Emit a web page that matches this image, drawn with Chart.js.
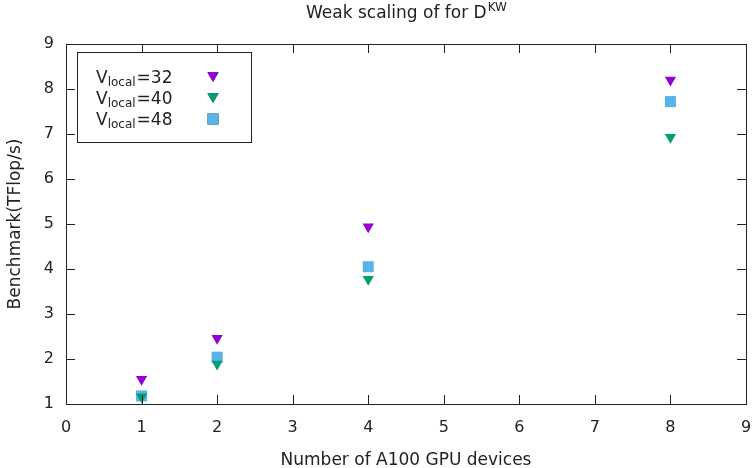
<!DOCTYPE html>
<html>
<head>
<meta charset="utf-8">
<script src="https://cdn.jsdelivr.net/npm/chart.js@4"></script>
<style>
  html, body { margin: 0; padding: 0; background: #fff; }
  #wrap { width: 755px; height: 468px; }
</style>
</head>
<body>
<div id="wrap"><canvas id="weakScaling"></canvas></div>
<script>
const devices = [1, 2, 4, 8];
const vlocal32 = [1.55, 2.46, 4.94, 8.2];
const vlocal40 = [1.16, 1.89, 3.77, 6.93];
const vlocal48 = [1.18, 2.04, 4.05, 7.72];
const seriesNames = ["32", "40", "48"];
const xTicks = [0, 1, 2, 3, 4, 5, 6, 7, 8, 9];
const yTicks = [1, 2, 3, 4, 5, 6, 7, 8, 9];

const FONT = "'DejaVu Sans', sans-serif";
const PURPLE = "#9400d3";
const GREEN = "#009e73";
const BLUE = "#56b4e9";

const pts = (ys) => devices.map((x, i) => ({ x: x, y: ys[i] }));

// gnuplot-style frame: border, inward ticks on all four sides, titles, key box
const framePlugin = {
  id: "frame",
  afterDraw(chart) {
    const c = chart.ctx;
    const a = chart.chartArea;
    const xs = chart.scales.x, ys = chart.scales.y;
    c.save();
    c.strokeStyle = "#222";
    c.lineWidth = 1;
    c.strokeRect(a.left + 0.5, a.top + 0.5, a.right - a.left, a.bottom - a.top);
    c.beginPath();
    xTicks.forEach(v => {
      const px = Math.round(xs.getPixelForValue(v)) + 0.5;
      c.moveTo(px, a.bottom); c.lineTo(px, a.bottom - 9);
      c.moveTo(px, a.top); c.lineTo(px, a.top + 9);
    });
    yTicks.forEach(v => {
      const py = Math.round(ys.getPixelForValue(v)) + 0.5;
      c.moveTo(a.left, py); c.lineTo(a.left + 9, py);
      c.moveTo(a.right, py); c.lineTo(a.right - 9, py);
    });
    c.stroke();

    c.fillStyle = "#222";
    c.textBaseline = "alphabetic";
    // title with superscript
    const t1 = "Weak scaling of for D";
    c.font = "17px " + FONT;
    const w1 = c.measureText(t1).width;
    c.font = "12px " + FONT;
    const w2 = c.measureText("KW").width;
    const tx = (a.left + a.right) / 2 - (w1 + w2) / 2;
    c.font = "17px " + FONT;
    c.textAlign = "left";
    c.fillText(t1, tx, 18);
    c.font = "12px " + FONT;
    c.fillText("KW", tx + w1 + 1, 11);

    // axis titles
    c.font = "17px " + FONT;
    c.textAlign = "center";
    c.fillText("Number of A100 GPU devices", (a.left + a.right) / 2, 465);
    c.save();
    c.translate(20, (a.top + a.bottom) / 2);
    c.rotate(-Math.PI / 2);
    c.fillText("Benchmark(TFlop/s)", 0, 0);
    c.restore();

    // key box
    c.strokeRect(77.5, 52.5, 174, 90);
    const colors = [PURPLE, GREEN, BLUE];
    seriesNames.forEach((n, i) => {
      const by = 83 + i * 21;
      c.textAlign = "left";
      let x = 96;
      c.font = "17px " + FONT;
      c.fillStyle = "#222";
      c.fillText("V", x, by);
      x += c.measureText("V").width;
      c.font = "12px " + FONT;
      c.fillText("local", x, by + 3);
      x += c.measureText("local").width + 1;
      c.font = "17px " + FONT;
      c.fillText("=" + n, x, by);
      const ds = chart.data.datasets[i];
      Chart.helpers.drawPoint(c, {
        pointStyle: ds.pointStyle,
        radius: ds.pointRadius,
        rotation: ds.rotation || 0,
        borderWidth: 0
      }, 213, by - 6 + (ds.pointStyle === "triangle" ? -1.5 : 0));
      c.fillStyle = colors[i];
      c.fill();
    });
    c.restore();
  }
};

new Chart(document.getElementById("weakScaling"), {
  type: "scatter",
  data: {
    datasets: [
      {
        label: "Vlocal=32",
        data: pts(vlocal32),
        pointStyle: "triangle",
        rotation: 180,
        pointRadius: 6.5,
        backgroundColor: PURPLE,
        borderWidth: 0
      },
      {
        label: "Vlocal=40",
        data: pts(vlocal40),
        pointStyle: "triangle",
        rotation: 180,
        pointRadius: 6.5,
        backgroundColor: GREEN,
        borderWidth: 0
      },
      {
        label: "Vlocal=48",
        data: pts(vlocal48),
        pointStyle: "rect",
        pointRadius: 7.8,
        backgroundColor: BLUE,
        borderWidth: 0
      }
    ]
  },
  options: {
    responsive: true,
    maintainAspectRatio: false,
    animation: false,
    events: [],
    layout: { padding: { top: 44, right: 9, left: 0, bottom: 0 } },
    plugins: {
      legend: { display: false },
      tooltip: { enabled: false },
      title: { display: false }
    },
    scales: {
      x: {
        type: "linear",
        min: 0,
        max: 9,
        afterBuildTicks: (s) => { s.ticks = xTicks.map(v => ({ value: v })); },
        afterFit: (s) => { s.height = 64; s.paddingLeft = 0; s.paddingRight = 0; },
        grid: { display: false, drawTicks: false },
        border: { display: false },
        ticks: { color: "#222", font: { family: FONT, size: 16 }, padding: 14, maxRotation: 0 }
      },
      y: {
        type: "linear",
        min: 1,
        max: 9,
        afterBuildTicks: (s) => { s.ticks = yTicks.map(v => ({ value: v })); },
        afterFit: (s) => { s.width = 66; s.paddingTop = 0; s.paddingBottom = 0; },
        grid: { display: false, drawTicks: false },
        border: { display: false },
        ticks: { color: "#222", font: { family: FONT, size: 16 }, padding: 12 }
      }
    }
  },
  plugins: [framePlugin]
});
</script>
</body>
</html>
